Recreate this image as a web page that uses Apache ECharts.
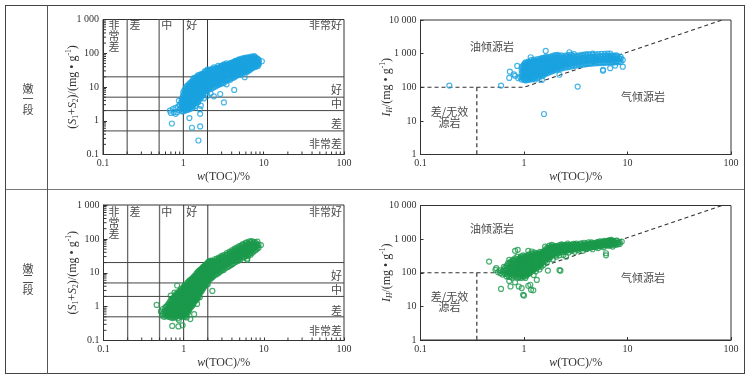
<!DOCTYPE html>
<html><head><meta charset="utf-8">
<script src="https://cdn.jsdelivr.net/npm/echarts@6.0.0/dist/echarts.min.js"></script>
<style>html,body{margin:0;padding:0;background:#fff}#c{width:752px;height:381px}</style>
</head><body><div id="c"></div>
<script>
// ---------- data ----------
const rowLabels = ['嫩一段', '嫩二段'];
const tocBoundsWeak = [0.2, 0.5];
const tocBoundsStrong = [1, 2];
const s12Bounds = [0.5, 2, 5, 20];
const xMinorTicks = [0.2,0.3,0.4,0.5,0.6,0.7,0.8,0.9,2,3,4,5,6,7,8,9,20,30,40,50,60,70,80,90];
const yMinorTicks = [0.2,0.3,0.4,0.5,0.6,0.7,0.8,0.9,2,3,4,5,6,7,8,9,20,30,40,50,60,70,80,90,200,300,400,500,600,700,800,900];
const hiBoundary = [[0.1,100],[1,100],[82,10000]];
const hiCutoff = [[0.35,100],[0.35,1]];

// columns: [w(TOC), [values read at that TOC]]
// 嫩一段  w(TOC) vs S1+S2
const s12BlueCols = [
[0.68,[2.0]],[0.70,[1.7]],[0.72,[0.83]],[0.74,[2.2]],[0.76,[1.8]],[0.8,[2.4,1.6]],[0.84,[1.8]],[0.86,[2.6]],[0.88,[3.9]],[0.9,[2.1,3.0]],[0.94,[2.5,3.5]],[0.96,[1.9,2.9,4.2]],
[0.98,[2.2,3.0,3.8,5.0]],[1.0,[1.9,2.4,2.9,3.4,4.0,4.8,5.8,7.0]],[1.03,[2.1,2.6,3.1,3.7,4.4,5.3,6.4,8.0]],[1.06,[2.0,2.5,3.0,3.5,4.1,4.9,5.9,7.2,9.0]],
[1.09,[2.3,2.8,3.3,3.9,4.6,5.5,6.6,8.0,10]],[1.12,[2.1,2.6,3.1,3.7,4.4,5.2,6.2,7.5,9.0,11]],[1.15,[2.4,2.9,3.5,4.2,5.0,6.0,7.2,8.6,10.5]],
[1.18,[2.2,2.7,3.3,4.0,4.8,5.7,6.8,8.2,9.8,12]],[1.19,[1.2]],[1.21,[2.5,3.0,3.7,4.5,5.4,6.4,7.7,9.2,11,13]],[1.24,[2.3,2.8,3.4,4.2,5.1,6.1,7.3,8.8,10.5,12.5]],
[1.27,[2.6,3.2,3.9,4.7,5.7,6.9,8.3,10,12,14.5]],[1.28,[0.62]],[1.3,[2.4,3.0,3.6,4.4,5.3,6.4,7.7,9.3,11,13.5]],[1.33,[2.8,3.4,4.1,5.0,6.0,7.2,8.7,10.5,12.5,15,18]],
[1.36,[3.2,3.9,4.7,5.7,6.8,8.2,9.8,11.8,14,17]],[1.4,[2.7,3.6,4.4,5.3,6.4,7.7,9.2,11,13,15.5,19]],[1.44,[3.3,4.1,5.0,6.0,7.2,8.6,10.3,12.3,14.5,17.5]],
[1.48,[3.8,4.6,5.6,6.8,8.1,9.7,11.6,13.8,16.5,20]],[1.52,[3.5,4.3,5.2,6.3,7.6,9.1,10.9,13,15.5,18.5,22]],[1.54,[0.26]],[1.56,[4.0,4.9,5.9,7.1,8.5,10.2,12.2,14.5,17.3]],
[1.6,[2.2,4.6,5.6,6.7,8.0,9.6,11.5,13.7,16.3,19.5,23]],[1.62,[0.68,1.6]],[1.64,[5.2,6.3,7.5,9.0,10.7,12.8,15.2,18,21.5]],[1.65,[2.8]],
[1.68,[4.8,5.9,7.1,8.5,10.1,12,14.3,17,20.3,24]],[1.72,[5.6,6.7,8.0,9.5,11.3,13.5,16,19,22.5]],[1.76,[6.2,7.4,8.8,10.5,12.5,14.8,17.6,21,25]],
[1.8,[4.6,7.0,8.3,9.9,11.8,14,16.6,19.7,23.5]],[1.85,[7.5,8.9,10.6,12.6,15,17.8,21,25,29]],[1.9,[6.5,8.2,9.7,11.5,13.6,16.2,19.2,22.8,27]],
[1.95,[8.8,10.4,12.4,14.7,17.4,20.6,24.5,29]],[2.0,[5.5,7.6,9.5,11.2,13.3,15.8,18.7,22.2,26.3,33]],[2.06,[8.5,10.2,12.1,14.3,17,20.1,23.8,28,32]],
[2.12,[9.3,11,13,15.4,18.2,21.5,25.4,30]],[2.18,[6.5,10,11.9,14.1,16.6,19.6,23.1,27.3,32]],[2.25,[9,10.8,12.8,15.1,17.8,21,24.7,29,34]],
[2.32,[9.5,11.6,13.7,16.2,19.1,22.5,26.5,31]],[2.4,[5.3,10,12.3,14.5,17.1,20.1,23.6,27.7,32.5,38]],[2.48,[11,13.2,15.5,18.2,21.4,25.1,29.5,34.5]],
[2.56,[10.5,12.3,14.4,16.9,19.8,23.2,27.2,31.8,37]],[2.64,[13.2,15.5,18.2,21.3,25,29.3,34.3]],[2.72,[11.5,14,16.4,19.2,22.5,26.3,30.8,36,42]],
[2.8,[12,14.8,17.3,20.2,23.6,27.6,32.3,37.5]],[2.88,[6.2,13,15.5,18.1,21.2,24.8,29,33.8,39.5]],[2.96,[12.5,16.3,19,22.2,26,30.3,35.3,41]],
[3.05,[14,17.2,20.1,23.5,27.4,32,37.3,43]],[3.15,[13,17.8,20.8,24.3,28.4,33.1,38.6,45]],[3.2,[3.5]],[3.25,[15.6,18.6,21.8,25.4,29.6,34.6,40.3,47]],
[3.35,[14.5,19.5,22.7,26.5,31,36,42]],[3.45,[12,17,20.3,23.7,27.6,32.2,37.5,43.6,50]],[3.55,[16,21,24.5,28.6,33.3,38.8,45]],
[3.65,[18.2,21.8,25.4,29.6,34.5,40.1,46.6]],[3.75,[17,22.5,26.2,30.5,35.5,41.3,48]],[3.85,[16.4,20,23.3,27.2,31.7,36.9,43,50]],
[3.95,[19,24,28,32.6,38,44.2,51.5]],[4.05,[21.5,25,29.2,34,39.5,46,53]],[4.15,[18.5,22,26,30.3,35.3,41,47.8]],[4.25,[22.8,27,31.5,36.6,42.6,49.5,56]],
[4.3,[8.2]],[4.35,[20,24.2,28.2,32.8,38.2,44.4,51.6]],[4.45,[20.5,25.5,29.6,34.4,40,46.5,54,60]],[4.55,[22,26.8,31.2,36.2,42.1,49,57]],
[4.65,[23,28,32.5,37.8,44,51.1,59]],[4.75,[24.5,29.3,34,39.6,46,53.5,62]],[4.85,[25,30.5,35.5,41.3,48,55.8]],[4.95,[22.5,27.5,32,37.2,43.2,50.3,58.5,66]],
[5.05,[29,33.5,38.9,45.2,52.5,61]],[5.2,[25.5,31,36,41.8,48.6,56.5,65]],[5.35,[24,28.5,33,38.3,44.5,51.7,60,70]],[5.5,[30.5,35.4,41.1,47.8,55.5,64.5]],
[5.65,[27.5,32.8,38,44.2,51.4,59.7,69]],[5.8,[19.5,29,34.5,40,46.5,54,62.8,73]],[5.95,[31,37,43,50,58,67.4]],[6.1,[28,33,39,45.3,52.6,61.2,71]],
[6.25,[29,35,41.5,48.2,56,65,75]],[6.4,[32,37.2,43.2,50.2,58.3,67.8]],[6.55,[31,39,45.5,52.8,61.4,71.4]],[6.7,[35,41.3,48,55.8,64.8,75.3]],
[6.85,[33,43.5,50.5,58.7,68.2]],[7.0,[38,45.5,53,61.5,71.5,80]],[7.2,[36,42,48.7,56.6,65.8,76]],[7.4,[40,47,54.6,63.4,73.7]],
[7.6,[38.5,44.7,52,60.4,70.2,82]],[7.8,[42,49,57,66,76.7]],[8.0,[40,46.5,54,62.8,73]],[8.25,[44,51,59.3,69]],[8.5,[42,49,57,66]],[8.7,[47,55,64]],[9.5,[58]]
];

// 嫩一段  w(TOC) vs IH
const hiBlueCols = [
[0.19,[112]],[0.6,[112]],[0.72,[190]],[0.73,[290]],[0.8,[240]],[0.82,[218]],[0.86,[430]],[0.88,[185]],[0.92,[200]],
[0.95,[170,210,260,320,400]],[0.98,[185,230,285,350,430]],[1.0,[165,205,250,310,380,470]],[1.02,[180,220,270,335,410,510]],
[1.04,[160,195,240,295,365,450,550]],[1.06,[175,215,265,325,400,490]],[1.08,[190,232,285,350,430,530]],[1.1,[165,205,252,310,380,470,580]],
[1.12,[180,222,273,335,412,505]],[1.14,[195,240,295,362,445,550]],[1.16,[170,210,258,318,390,480,780]],[1.18,[185,228,280,345,424,520,640]],
[1.2,[200,246,302,372,457,560]],[1.22,[175,215,265,326,400,492,605]],[1.25,[190,234,288,354,435,535,660]],[1.28,[170,205,252,310,381,469,577]],
[1.31,[220,270,332,409,503,619]],[1.34,[185,235,289,356,438,539,680]],[1.37,[210,258,318,391,481,592]],[1.4,[195,250,308,379,466,573,705]],
[1.43,[225,277,341,420,516,635]],[1.46,[240,295,363,447,550,677]],[1.49,[165,215,265,326,401,493,607,740]],[1.52,[255,314,386,475,584,718]],
[1.55,[230,283,348,428,527,648]],[1.56,[16]],[1.58,[270,332,408,502,617,760]],[1.61,[250,308,379,466,573,705]],[1.62,[1200]],
[1.64,[285,351,432,531,653,800]],[1.67,[262,322,396,487,599,737]],[1.7,[300,369,454,558,686]],[1.74,[275,338,416,512,630,775]],
[1.78,[315,387,476,585,720]],[1.82,[290,357,439,540,664,817]],[1.86,[330,406,499,614,755]],[1.9,[305,375,461,567,697,857]],
[1.95,[345,424,522,642,790]],[2.0,[320,394,485,596,733,900]],[2.05,[360,443,545,670,824]],[2.1,[335,412,507,624,767,920]],
[2.16,[375,461,567,697,857]],[2.2,[235]],[2.22,[350,430,529,651,800]],[2.28,[390,480,590,726,890]],[2.35,[365,449,552,679,835]],
[2.42,[405,498,613,754]],[2.5,[380,467,574,706,868]],[2.58,[420,517,636,782]],[2.66,[395,486,598,735,904]],[2.75,[435,535,658,809,1100]],
[2.84,[410,504,620,763,938]],[2.94,[450,554,681,838]],[3.04,[425,523,643,791,970]],[3.15,[465,572,704,866]],[3.26,[440,541,665,818]],
[3.3,[105]],[3.38,[480,590,726,893]],[3.5,[455,560,688,846]],[3.62,[495,609,749,921]],[3.75,[470,578,711,875]],[3.88,[510,627,771,948]],
[4.0,[485,597,734,903]],[4.15,[520,640,787,968]],[4.3,[495,609,749,921]],[4.45,[530,652,802]],[4.6,[505,621,764,940,1000]],
[4.75,[540,664,817]],[4.9,[515,633,779,958]],[5.05,[550,677,833]],[5.2,[520,640,787,968]],[5.4,[555,683,840]],[5.6,[525,646,795,978]],
[5.8,[310,330,560,689,847]],[6.0,[530,652,802,986]],[6.2,[565,695,855]],[6.4,[535,658,809,995]],[6.6,[570,701,862]],
[6.8,[370,540,664,817,1000]],[7.0,[575,707,870]],[7.2,[545,670,824]],[7.4,[580,713,877]],[7.6,[440,550,676,832]],[7.8,[585,720,885]],
[8.0,[555,683,840]],[8.3,[590,726]],[8.6,[560,700,800]],[9.0,[410,650]]
];

// 嫩二段  w(TOC) vs S1+S2
const s12GreenCols = [
[0.46,[1.12]],[0.52,[0.72]],[0.54,[0.55]],[0.55,[0.62,0.85]],[0.57,[0.5,0.68]],[0.59,[0.58,0.8,0.95]],[0.61,[0.52,0.65,0.75,1.0]],
[0.63,[0.56,0.7,0.85,1.1]],[0.65,[0.5,0.62,0.78,0.95,1.2]],[0.67,[0.55,0.68,0.84,1.05,1.35]],[0.69,[0.48,0.6,0.74,0.92,1.15,1.5,2.1]],
[0.71,[0.52,0.65,0.8,1.0,1.25,1.6]],[0.72,[0.27]],[0.73,[0.46,0.57,0.7,0.87,1.08,1.35,1.7]],[0.75,[0.5,0.62,0.77,0.95,1.18,1.47,1.85]],
[0.77,[0.55,0.68,0.84,1.04,1.3,1.6,2.0,2.6]],[0.79,[0.48,0.6,0.74,0.92,1.14,1.42,1.76,2.2]],[0.81,[0.53,0.66,0.82,1.0,1.25,1.55,1.92,2.4]],
[0.83,[0.58,0.72,0.9,1.1,1.37,1.7,2.1,4.2]],[0.85,[0.45,0.55,0.68,0.85,1.05,1.3,1.6,2.0,2.5]],[0.86,[0.26]],
[0.87,[0.4,0.6,0.75,0.93,1.15,1.42,1.76,2.2,2.7]],[0.89,[0.52,0.65,0.8,1.0,1.24,1.54,1.9,2.35,2.9]],[0.91,[0.57,0.71,0.88,1.09,1.35,1.67,2.07,2.56]],
[0.93,[0.5,0.62,0.77,0.96,1.19,1.47,1.82,2.26,2.8,3.4]],[0.95,[0.55,0.68,0.84,1.04,1.29,1.6,1.98,2.45,3.0]],
[0.97,[0.28,0.6,0.74,0.92,1.14,1.41,1.75,2.17,2.7,3.3]],[0.99,[0.52,0.65,0.8,1.0,1.24,1.54,1.9,2.36,2.9,3.6]],
[1.01,[0.57,0.7,0.87,1.08,1.34,1.66,2.06,2.55,3.15,3.9]],[1.03,[0.5,0.62,0.77,0.95,1.18,1.46,1.81,2.24,2.78,3.44,4.3]],
[1.05,[0.55,0.68,0.84,1.04,1.29,1.6,1.98,2.45,3.04,3.77]],[1.07,[0.6,0.74,0.92,1.14,1.41,1.75,2.17,2.68,3.32,4.4]],
[1.09,[0.48,0.66,0.82,1.01,1.25,1.55,1.92,2.38,2.95,3.65]],[1.11,[0.72,0.89,1.1,1.36,1.69,2.09,2.59,3.2,4.0,5.0]],
[1.13,[0.65,0.8,0.99,1.23,1.52,1.88,2.33,2.89,3.58,4.4]],[1.15,[0.85,1.05,1.3,1.61,2.0,2.47,3.06,3.79,4.7,5.5]],
[1.17,[0.78,0.96,1.19,1.47,1.82,2.26,2.8,3.46,4.29]],[1.19,[0.88,1.09,1.35,1.67,2.07,2.56,3.17,3.93,4.86,6.0]],
[1.21,[0.43,0.98,1.21,1.5,1.86,2.3,2.85,3.53,4.37,5.4]],[1.23,[1.1,1.36,1.68,2.08,2.58,3.2,3.96,4.9,6.2]],
[1.25,[1.0,1.24,1.53,1.9,2.35,2.91,3.6,4.46,5.5]],[1.27,[1.2,1.48,1.83,2.27,2.81,3.48,4.31,5.33,6.6]],
[1.29,[1.1,1.36,1.69,2.09,2.59,3.2,3.97,4.91,6.08,7.0]],[1.31,[1.3,1.61,2.0,2.47,3.06,3.79,4.69,5.8]],
[1.33,[1.22,1.51,1.87,2.32,2.87,3.55,4.4,5.45,6.75]],[1.35,[0.6,1.42,1.76,2.18,2.7,3.34,4.14,5.12,6.34,7.8]],
[1.38,[1.6,1.98,2.45,3.03,3.75,4.65,5.75,7.1,8.0]],[1.41,[1.5,1.86,2.3,2.85,3.53,4.37,5.41,6.7,8.3]],
[1.44,[1.75,2.17,2.69,3.33,4.12,5.1,6.31,7.8,9.5]],[1.47,[1.2,1.65,2.04,2.53,3.13,3.88,4.8,5.94,7.35,9.1]],
[1.5,[2.0,2.48,3.07,3.8,4.7,5.82,7.2,8.9,10.5]],[1.53,[1.9,2.35,2.91,3.6,4.46,5.52,6.83,8.45,11]],
[1.56,[2.3,2.85,3.53,4.37,5.41,6.7,8.3,10.2]],[1.59,[1.9,2.7,3.34,4.13,5.11,6.32,7.82,9.68,12]],
[1.62,[2.6,3.22,3.99,4.94,6.11,7.56,9.36,11.6]],[1.65,[3.1,3.84,4.75,5.88,7.28,9.0,11.1,12.5]],
[1.68,[2.9,3.59,4.44,5.5,6.8,8.42,10.4,13]],[1.71,[3.5,4.33,5.36,6.63,8.2,10.15,12.6,13.5]],
[1.74,[3.3,4.08,5.05,6.25,7.73,9.57,11.8,14.6]],[1.77,[4.0,4.95,6.12,7.58,9.38,11.6,14.4]],
[1.8,[3.8,4.7,5.82,7.2,8.91,11.0,13.6,15.5]],[1.84,[4.5,5.57,6.89,8.53,10.6,13.1,16]],[1.88,[4.3,5.32,6.59,8.15,10.1,12.5,15.4,17]],
[1.92,[5.2,6.44,7.97,9.86,12.2,15.1,18]],[1.96,[4.9,6.06,7.5,9.28,11.5,14.2,17.6]],[2.0,[4.6,5.8,7.18,8.88,11,13.6,16.8,20]],
[2.05,[6.5,8.04,9.95,12.3,15.2,18.8,21]],[2.1,[6.2,7.67,9.5,11.8,14.6,18,22]],[2.15,[7.2,8.91,11,13.6,16.9,20.9]],
[2.2,[6.8,8,9.9,12.3,15.2,18.8,23]],[2.25,[7.5,9.28,11.5,14.2,17.6,21.8]],[2.28,[2.9]],
[2.3,[7.5,9.3,11.5,14.2,17.6,21.8]],[2.38,[8.2,10.1,12.5,15.5,19.2]],[2.45,[8.8,10.9,13.5,16.7,20.7,25]],[2.52,[9.5,11.8,14.6,18.1,22.4]],
[2.6,[9,11.2,13.8,17.1,21.2,26]],[2.68,[10.2,12.6,15.6,19.3,23.9]],[2.76,[10,12.4,15.3,19,23.5,28]],[2.85,[11,13.6,16.8,20.8,25.7]],
[2.95,[11.5,14.2,17.6,21.8,27,31]],[3.05,[12.5,15.5,19.2,23.8,29.4]],[3.15,[12,14.8,18.3,22.6,28,33]],[3.3,[13.5,16.7,20.7,25.6,31.7]],
[3.45,[14.5,17.9,22.2,27.5,34,38]],[3.6,[15,18.6,23,28.5,35.2]],[3.75,[16,19.8,24.5,30.3,37.5,42]],[3.9,[17,21,26,32.2,39.8]],
[4.05,[18,22.3,27.6,34.2,42.3,47]],[4.2,[19,23.5,29.1,36,44.5]],[4.35,[22,27.2,33.7,41.7,51.6]],[4.5,[21,26,32.2,39.8,49.3]],
[4.65,[24,29.7,36.7,45.4,56]],[4.8,[22.5,27.8,34.4,42.6,52.7]],[4.95,[26,32.2,39.8,49.3,61]],[5.1,[24.5,30.3,37.5,46.4,57.4]],
[5.3,[28,34.7,42.9,53.1,65.7]],[5.5,[30,37.1,45.9,56.8,70]],[5.7,[28.5,35.3,43.7,54,66.9]],[5.9,[32,39.6,49,60.6,75]],
[6.1,[34,42.1,52.1,64.5,79]],[6.2,[26,24]],[6.35,[31,38.4,47.5,58.8,72.8]],[6.6,[36,44.6,55.2,68.3,84]],[6.85,[34,42,52,64.4,79.7]],
[7.1,[38,47,58.2,72,86]],[7.4,[42,52,64.3,79.6]],[7.7,[45,55.7,68.9,80]],[8.0,[48,59.4,73.5]],[8.3,[52,64.4,83]],[8.6,[55,68]],[9.2,[66]]
];

// 嫩二段  w(TOC) vs IH
const hiGreenCols = [
[0.46,[215]],[0.53,[122]],[0.54,[137]],[0.56,[105]],[0.59,[97,118]],[0.6,[33]],[0.62,[110,88]],[0.64,[125,100,150]],
[0.66,[92,115,140]],[0.68,[95,120,160,78]],[0.7,[145,105,85,190]],[0.72,[57,190,240,130,100,75]],[0.74,[39,110,140,88,170,210]],
[0.76,[130,95,115,155,72,200]],[0.78,[85,105,128,160,195,240]],[0.8,[160,105,80,120,140,185,230]],[0.82,[52,448,120,95,150,175,210,270]],
[0.84,[200,110,90,130,160,75,250]],[0.86,[140,100,120,170,210,85,300]],[0.87,[480]],[0.88,[110,90,135,160,195,240,70]],[0.89,[39]],
[0.9,[170,75,125,100,145,210,260]],[0.92,[95,115,140,175,220,280,80]],[0.93,[230,130,105,160,190]],[0.94,[150,88,120,180,250,70,310]],
[0.95,[35,110]],[0.96,[180,100,130,155,210,270,80]],[0.97,[85,115,140,170,230]],[0.98,[22,130,95,160,200,260,330]],[0.99,[260,110,75,145,180]],
[1.0,[100,155,21,120,135,200,240,85,300]],[1.01,[200,110,170,130,250,90]],[1.02,[120,145,95,180,225,280]],[1.03,[70,105,135,160,200,260]],
[1.04,[170,120,90,145,215,300]],[1.05,[140,110,180,230,100,80]],[1.06,[105,130,160,195,250,310]],[1.07,[240,115,145,175,90]],
[1.08,[130,100,160,200,270]],[1.09,[90,120,150,185,230,330]],[1.1,[190,41,448,110,140,165,240]],[1.11,[150,125,180,210,95,280]],
[1.12,[115,140,170,200,260,350]],[1.13,[280,105,135,160,210]],[1.14,[165,125,195,240,100]],[1.15,[44,100,150,180,220,300]],
[1.16,[220,130,160,190,260,115]],[1.17,[135,31,170,205,245,320]],[1.18,[175,120,150,210,270]],[1.19,[428]],[1.2,[120,145,180,230,280,370]],
[1.21,[300,160,195,240,130]],[1.22,[200,140,170,260,115]],[1.23,[30,150,185,220,300]],[1.24,[85,130,165,200,250,340]],[1.25,[250,140,175,210,290]],
[1.26,[170,130,200,240,310,400]],[1.27,[130,155,190,230,280]],[1.28,[340,175,210,260,150]],[1.29,[210,145,180,240,300]],
[1.3,[110,160,195,235,290,380]],[1.31,[160,200,250,320]],[1.32,[270,175,215,145]],[1.33,[61,190,230,300,160]],[1.34,[190,220,270,340,150]],
[1.35,[140,175,210,260,330]],[1.36,[380,200,240,290,170]],[1.37,[230,180,280,350]],[1.38,[170,210,250,310]],[1.4,[300,190,230,270,360,160]],
[1.41,[125,200,245,300]],[1.42,[210,260,330,180]],[1.43,[420,220,270]],[1.44,[260,200,240,310,380]],[1.45,[180,220,290,350]],
[1.46,[340,250,200,280]],[1.47,[150,230,270,320]],[1.48,[240,200,300,360]],[1.5,[280,200,240,330,400]],[1.52,[380,230,270,310]],
[1.54,[170,250,290,340,420]],[1.55,[320,220,270]],[1.56,[250,300,350,440]],[1.58,[440,260,310,370]],[1.6,[220,600,280,330,390]],
[1.62,[300,250,350,420,500]],[1.64,[360,280,320,400]],[1.66,[200,300,350,450]],[1.68,[270,330,380,480,560]],[1.7,[116,420,300,360]],
[1.72,[330,280,390,450,520]],[1.74,[250,350,410,480]],[1.76,[640,370,320,430]],[1.78,[380,300,440,500,560]],[1.8,[290,350,410,480]],
[1.82,[460,330,390,540]],[1.84,[340,400,460,520,600]],[1.86,[676,370,430]],[1.88,[400,340,470,530]],[1.9,[250,380,440,500,580]],
[1.92,[500,420,360,460]],[1.95,[360,420,480,550,620]],[1.98,[430,380,500]],[2.0,[380,330,440,520,600]],[2.02,[560,470,410]],
[2.05,[300,400,460,520,620]],[2.1,[460,380,430,540,600]],[2.14,[380,450,500,580]],[2.18,[600,430,480,540]],[2.2,[120,330,420,520,660]],
[2.25,[115,500,450,560]],[2.3,[410,480,540,620,700]],[2.35,[660,460,520,580]],[2.4,[340,420,480,540,620]],[2.45,[540,470,590,680]],
[2.5,[440,510,570,640]],[2.55,[300,490,550,610]],[2.6,[600,450,520,680]],[2.65,[490,550,610,740]],[2.7,[400,510,570,640]],
[2.75,[680,530,590]],[2.8,[530,470,590,650]],[2.9,[450,530,590,670]],[2.95,[610,550,490]],[3.0,[510,570,630,720]],
[3.1,[420,550,610,670]],[3.15,[700,530,590]],[3.2,[570,510,630,740]],[3.3,[470,550,610,670]],[3.4,[630,570,530]],
[3.5,[520,590,650,740]],[3.6,[740,570,630]],[3.7,[450,550,610,670]],[3.8,[590,530,650,780]],[3.9,[680,570,620]],
[4.0,[510,590,650,740]],[4.1,[610,550,700]],[4.2,[800,590,650]],[4.3,[550,630,700]],[4.4,[740,610,670]],[4.5,[650,570,720,800]],
[4.6,[500,610,670]],[4.7,[700,630,760]],[4.8,[590,670,740]],[5.0,[780,650,700,580]],[5.1,[640,720,820]],[5.2,[540,680,760]],
[5.3,[720,640,800]],[5.4,[860,700,620]],[5.5,[620,680,760]],[5.7,[760,680,840,600]],[5.8,[690,750]],[5.9,[570,710,820]],
[6.0,[890,750,670]],[6.1,[750,810,690]],[6.2,[380,330,710]],[6.3,[650,770,850]],[6.4,[810,710,890]],[6.5,[710,770,650]],
[6.7,[930,790,710]],[6.8,[640,750,850]],[6.9,[790,710,890]],[7.0,[953,770,680]],[7.1,[700,830]],[7.2,[600,750,870]],
[7.4,[850,720,790]],[7.5,[760,680]],[7.7,[680,790,890]],[7.9,[900,760]],[8.1,[780,700]],[8.4,[720,820]],[8.8,[850]]
];

// ---------- styling helpers ----------
const NUM = 'Liberation Serif';
const CJK = 'Noto Sans CJK SC';
const INK = '#333';
const BLUE = '#1aa3e0';
const GREEN = '#1c9a4c';

function flatten(cols) { return cols.flatMap(c => c[1].map(v => [c[0], v])); }

function fmtLog(v) {
  const r = Math.round(Math.log10(v));
  const n = Math.pow(10, r);
  if (r < 0) return n.toFixed(-r);
  return String(n).replace(/\B(?=(\d{3})+(?!\d))/g, ' ');
}
const richName = {
  it: {fontFamily: NUM, fontStyle: 'italic', fontSize: 12, color: INK, lineHeight: 15},
  n: {fontFamily: NUM, fontSize: 12, color: INK, lineHeight: 15},
  sub: {fontFamily: NUM, fontSize: 7.5, color: INK, verticalAlign: 'bottom', lineHeight: 9},
  subi: {fontFamily: NUM, fontSize: 7.5, fontStyle: 'italic', color: INK, verticalAlign: 'bottom', lineHeight: 9},
  sup: {fontFamily: NUM, fontSize: 7.5, color: INK, verticalAlign: 'top', lineHeight: 9}
};
function logAxis(gi, min, max, name, nameGap, tickLen) {
  return {
    type: 'log', logBase: 10, gridIndex: gi, min: min, max: max,
    splitNumber: Math.round(Math.log10(max / min)),
    axisLine: {show: true, lineStyle: {color: INK, width: 1}},
    axisTick: {show: true, inside: true, length: tickLen, lineStyle: {color: INK, width: 1}},
    minorTick: {show: false},
    splitLine: {show: false},
    axisLabel: {color: INK, fontFamily: NUM, fontSize: 10, margin: 4, formatter: fmtLog,
      showMinLabel: true, showMaxLabel: true, hideOverlap: false},
    name: name, nameLocation: 'middle', nameGap: nameGap, nameMoveOverlap: false,
    nameTextStyle: {fontFamily: NUM, fontSize: 12, color: INK, rich: richName}
  };
}
const xName = '{it|w}{n|(TOC)/%}';
const s12Name = '{n|(}{it|S}{sub|1}{n|+}{it|S}{sub|2}{n|)/(mg • g}{sup|-1}{n|)}';
const hiName = '{it|I}{subi|H}{n|/(mg • g}{sup|-1}{n|)}';

const grids = [
  {left: 103, top: 19.5, width: 241, height: 135},
  {left: 420.5, top: 20, width: 310.5, height: 134.5},
  {left: 103.5, top: 205, width: 240.5, height: 135.5},
  {left: 420.5, top: 205.5, width: 310.5, height: 134.5}
].map(g => Object.assign(g, {show: true, borderColor: INK, borderWidth: 1, containLabel: false, outerBoundsMode: 'none'}));

const xAxes = [0,1,2,3].map(i => logAxis(i, 0.1, 100, xName, 15, 3));
const yAxes = [
  logAxis(0, 0.1, 1000, s12Name, 23, 4),
  logAxis(1, 1, 10000, hiName, 26, 3),
  logAxis(2, 0.1, 1000, s12Name, 23, 4),
  logAxis(3, 1, 10000, hiName, 26, 3)
];

function tickSeries(gi, dir, vals, base) {
  return {
    type: 'custom', xAxisIndex: gi, yAxisIndex: gi, silent: true, z: 3,
    data: vals.map(v => dir === 'x' ? [v, base] : [base, v]),
    renderItem: function (params, api) {
      const p = api.coord([api.value(0), api.value(1)]);
      const L = 3;
      return {type: 'line',
        shape: dir === 'x' ? {x1: p[0], y1: p[1], x2: p[0], y2: p[1] - L} : {x1: p[0], y1: p[1], x2: p[0] + L, y2: p[1]},
        style: {stroke: INK, lineWidth: 1}};
    }
  };
}
function segSeries(gi, pts, color, width, type) {
  return {type: 'line', xAxisIndex: gi, yAxisIndex: gi, data: pts, showSymbol: false, symbol: 'none',
    silent: true, z: 1, animation: false, lineStyle: {color: color, width: width, type: type || 'solid'}};
}
function scatterSeries(gi, data, color) {
  return {type: 'scatter', xAxisIndex: gi, yAxisIndex: gi, data: data, symbol: 'circle', symbolSize: 5,
    z: 5, itemStyle: {color: 'rgba(255,255,255,0)', borderColor: color, borderWidth: 1.2}};
}

const series = [];
[0, 2].forEach(gi => {
  tocBoundsWeak.forEach(v => series.push(segSeries(gi, [[v, 0.1], [v, 1000]], '#6a6a6a', 1.3)));
  tocBoundsStrong.forEach(v => series.push(segSeries(gi, [[v, 0.1], [v, 1000]], '#333', 1)));
  s12Bounds.forEach(v => series.push(segSeries(gi, [[0.1, v], [100, v]], '#444', 1)));
  series.push(tickSeries(gi, 'x', xMinorTicks, 0.1));
  series.push(tickSeries(gi, 'y', yMinorTicks, 0.1));
});
[1, 3].forEach(gi => {
  series.push(segSeries(gi, hiBoundary, '#333', 1.2, [4, 3]));
  series.push(segSeries(gi, hiCutoff, '#333', 1.2, [4, 3]));
});
series.push(scatterSeries(0, flatten(s12BlueCols), BLUE));
series.push(scatterSeries(1, flatten(hiBlueCols), BLUE));
series.push(scatterSeries(2, flatten(s12GreenCols), GREEN));
series.push(scatterSeries(3, flatten(hiGreenCols), GREEN));

// ---------- text & frame ----------
function txt(x, y, s, align, size) {
  return {type: 'text', x: x, y: y, silent: true, z: 10,
    style: {text: s, fill: '#4a4a4a', fontSize: size || 11, fontFamily: CJK, align: align || 'center',
      verticalAlign: 'middle'}};
}
// vertical (stacked) text: one element per character
function vtxt(x, yCenter, s, step) {
  const chars = Array.from(s);
  const y0 = yCenter - (chars.length - 1) * step / 2;
  return chars.map((c, i) => txt(x, y0 + i * step, c));
}
function hline(y, x1, x2, c) { return {type: 'line', silent: true, z: 0, shape: {x1: x1, y1: y, x2: x2, y2: y}, style: {stroke: c, lineWidth: 1}}; }
function vline(x, y1, y2, c) { return {type: 'line', silent: true, z: 0, shape: {x1: x, y1: y1, x2: x, y2: y2}, style: {stroke: c, lineWidth: 1}}; }

const graphic = [
  hline(5.5, 5, 745, '#444'), hline(373.5, 5, 745, '#444'), hline(189.5, 5, 745, '#777'),
  vline(5.5, 5, 374, '#444'), vline(744.5, 5, 374, '#444'), vline(47.5, 5, 374, '#555'),
  ...vtxt(28, 99.3, rowLabels[0], 10.9), ...vtxt(28, 279.3, rowLabels[1], 10.9),
  // chart 1
  ...vtxt(114, 35.7, '非常差', 10.9), txt(135, 25, '差'), txt(166.7, 25, '中'), txt(191.7, 25, '好'),
  txt(342, 25, '非常好', 'right'),
  txt(342, 90.3, '好', 'right'), txt(342, 103.7, '中', 'right'), txt(342, 124.3, '差', 'right'), txt(342, 144.3, '非常差', 'right'),
  // chart 3
  ...vtxt(114, 223, '非常差', 11.2), txt(135, 211.5, '差'), txt(166.7, 211.5, '中'), txt(191.7, 211.5, '好'),
  txt(342, 211.5, '非常好', 'right'),
  txt(342, 276, '好', 'right'), txt(342, 290, '中', 'right'), txt(342, 310.5, '差', 'right'), txt(342, 330.5, '非常差', 'right'),
  // chart 2
  txt(492, 46.7, '油倾源岩'), txt(643, 96.7, '气倾源岩'), txt(449.5, 111.7, '差/无效'), txt(449.5, 122.7, '源岩'),
  // chart 4
  txt(492, 229.3, '油倾源岩'), txt(643, 278.3, '气倾源岩'), txt(449.5, 296.7, '差/无效'), txt(449.5, 307.3, '源岩')
];

const chart = echarts.init(document.getElementById('c'), null, {renderer: 'canvas'});
chart.setOption({
  animation: false,
  backgroundColor: '#fff',
  grid: grids,
  xAxis: xAxes,
  yAxis: yAxes,
  series: series,
  graphic: graphic
});
</script>
</body></html>
